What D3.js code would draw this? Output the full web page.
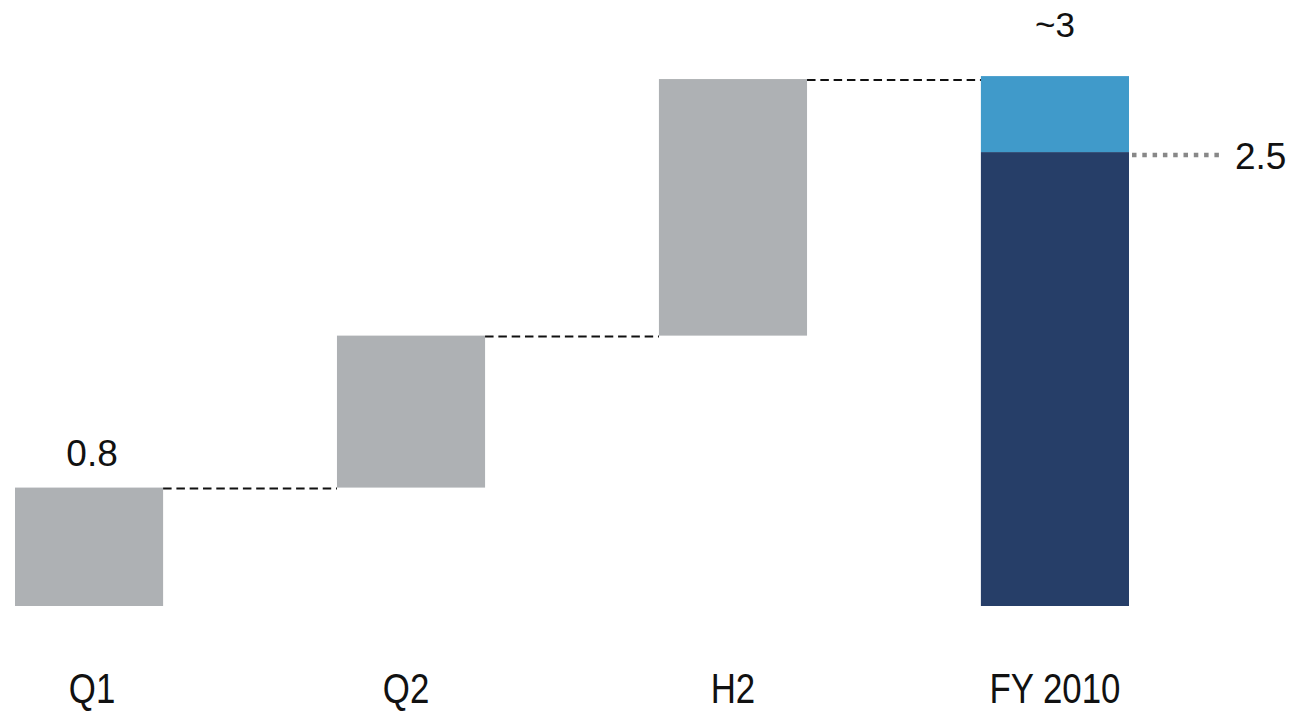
<!DOCTYPE html>
<html>
<head>
<meta charset="utf-8">
<script src="https://cdn.jsdelivr.net/npm/d3@7"></script>
<style>
  html, body { margin: 0; padding: 0; background: #fff; }
  svg { display: block; }
</style>
</head>
<body>
<svg id="chart" width="1292" height="714"></svg>
<script>
// Waterfall: quarterly contributions building up to the full-year figure
const categories = ["Q1", "Q2", "H2", "FY 2010"];
const increments = [0.8, 0.77, 1.30];   // Q1, Q2, H2 steps
const fyBase = 2.5;                      // firm part of the full-year total
const fyTotal = 2.885;                   // full-year estimate (~3)
const valueLabels = { q1: "0.8", total: "~3", base: "2.5" };
const axisFloor = 0.2;                   // the value axis starts above zero

const svg = d3.select("#chart");

const x = d3.scaleBand()
  .domain(categories)
  .range([15, 1129])
  .paddingInner(0.54)
  .paddingOuter(0);

const y = d3.scaleLinear()
  .domain([axisFloor, 3.0])
  .range([606, 53.4]);

// cumulative start/end for each step
let run = 0;
const steps = increments.map((v, i) => {
  const s = { cat: categories[i], start: run, end: run + v };
  run += v;
  return s;
});

const gray = "#aeb1b4";
const dark = "#263e68";
const light = "#409aca";

// step bars
svg.append("g").selectAll("rect")
  .data(steps)
  .join("rect")
  .attr("x", d => x(d.cat))
  .attr("width", x.bandwidth())
  .attr("y", d => y(d.end))
  .attr("height", d => y(Math.max(d.start, axisFloor)) - y(d.end))
  .attr("fill", gray);

// full-year stacked bar
const fy = categories[3];
svg.append("rect")
  .attr("x", x(fy)).attr("width", x.bandwidth())
  .attr("y", y(fyBase)).attr("height", y(axisFloor) - y(fyBase))
  .attr("fill", dark);
svg.append("rect")
  .attr("x", x(fy)).attr("width", x.bandwidth())
  .attr("y", y(fyTotal)).attr("height", y(fyBase) - y(fyTotal))
  .attr("fill", light);

// dashed connectors between consecutive bars
const connectors = steps.map((d, i) => ({
  x1: x(d.cat) + x.bandwidth(),
  x2: x(categories[i + 1]),
  v: d.end
}));
svg.append("g").selectAll("line")
  .data(connectors)
  .join("line")
  .attr("x1", d => d.x1)
  .attr("x2", d => d.x2)
  .attr("y1", d => y(d.v) + 1)
  .attr("y2", d => y(d.v) + 1)
  .attr("stroke", "#111")
  .attr("stroke-width", 2)
  .attr("stroke-dasharray", "8.5,4.8");

// dotted marker for the firm part of the total
const fyRight = x(fy) + x.bandwidth();
svg.append("line")
  .attr("x1", fyRight + 3)
  .attr("x2", fyRight + 95)
  .attr("y1", y(fyBase) + 3)
  .attr("y2", y(fyBase) + 3)
  .attr("stroke", "#888")
  .attr("stroke-width", 4.5)
  .attr("stroke-dasharray", "4.5,5.8");

const valueFont = "'Liberation Sans', Arial, sans-serif";

svg.append("text")
  .attr("x", fyRight + 106)
  .attr("y", y(fyBase) + 17)
  .attr("font-family", valueFont)
  .attr("font-size", 37)
  .attr("fill", "#111")
  .text(valueLabels.base);

svg.append("text")
  .attr("x", x(fy) + x.bandwidth() / 2)
  .attr("y", y(fyTotal) - 39)
  .attr("text-anchor", "middle")
  .attr("font-family", valueFont)
  .attr("font-size", 35)
  .attr("fill", "#111")
  .text(valueLabels.total);

svg.append("text")
  .attr("x", x("Q1") + x.bandwidth() / 2 + 3)
  .attr("y", y(increments[0]) - 22)
  .attr("text-anchor", "middle")
  .attr("font-family", valueFont)
  .attr("font-size", 37)
  .attr("fill", "#111")
  .text(valueLabels.q1);

// category labels, set in a narrowed face
const labelX = { "Q1": 3, "Q2": -5, "H2": 0, "FY 2010": 0 };
svg.append("g").selectAll("text")
  .data(categories)
  .join("text")
  .attr("transform", d => `translate(${x(d) + x.bandwidth() / 2 + labelX[d]},703) scale(0.81,1)`)
  .attr("text-anchor", "middle")
  .attr("font-family", valueFont)
  .attr("font-size", 43)
  .attr("fill", "#111")
  .text(d => d);
</script>
</body>
</html>
